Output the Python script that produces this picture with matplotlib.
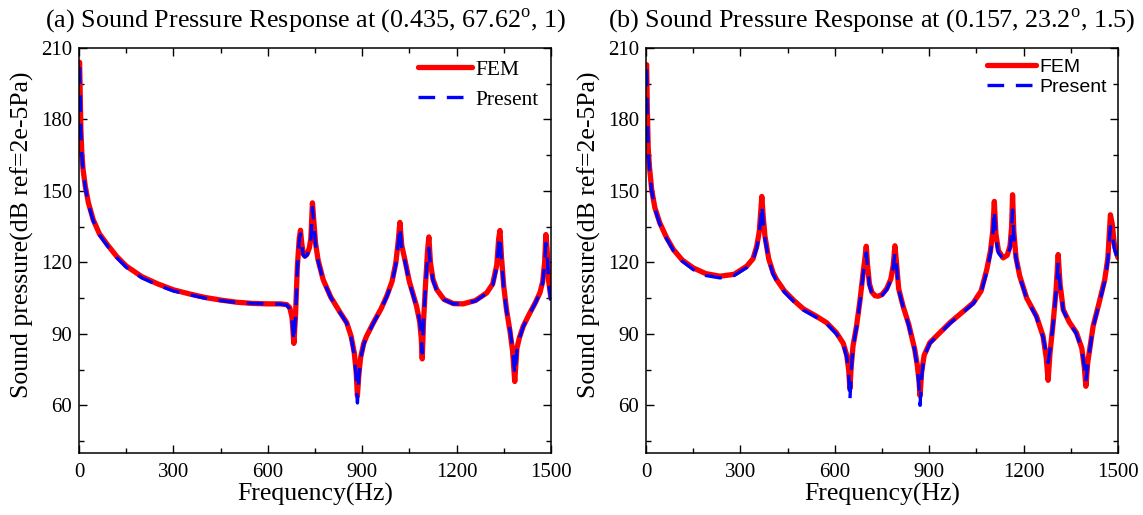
import numpy as np
import matplotlib
matplotlib.use("Agg")
import matplotlib.pyplot as plt

plt.rcParams['font.family'] = ['Liberation Serif', 'DejaVu Serif']
plt.rcParams['mathtext.fontset'] = 'custom'
plt.rcParams['mathtext.rm'] = 'Liberation Serif'

# panel (a): point (0.435, 67.62 deg, 1)
freq_a = [2, 4, 6, 9, 13, 20, 30, 45, 65, 90, 120, 150, 200, 250, 300, 350, 400, 450, 500, 550,
          600, 640, 660, 670, 677, 683, 688, 694, 700, 704, 708, 713, 718, 725, 732, 737, 742, 746,
          752, 760, 776, 800, 830, 851, 865, 875, 881, 885, 889, 895, 905, 914, 935, 960, 978, 995,
          1007, 1014, 1020, 1026, 1036, 1050, 1073, 1083, 1088, 1091, 1095, 1102, 1108, 1112, 1117,
          1125, 1137, 1160, 1190, 1221, 1260, 1296, 1315, 1328, 1334, 1338, 1343, 1350, 1359, 1370,
          1378, 1385, 1392, 1400, 1412, 1430, 1450, 1465, 1474, 1480, 1484, 1488, 1493, 1500]
fem_a = [204, 190, 176, 166, 159, 152, 145, 138, 132, 127.5, 122.5, 118.5, 114, 111, 108.5, 106.8,
         105.3, 104.2, 103.3, 102.8, 102.6, 102.6, 102.3, 101, 97, 86, 97, 118, 130, 133.5, 128,
         123.5, 122.6, 123.5, 126, 130, 145, 138, 128, 121, 112.8, 105.5, 99, 94.7, 89, 82, 74, 64,
         72, 80, 86, 89, 94.5, 100.5, 105.8, 112, 119.8, 128, 136.8, 127, 121, 112, 101.6, 95, 88,
         79.5, 95, 112, 125, 130.7, 120, 113, 108.6, 104.5, 102.7, 102.6, 104, 107.2, 111, 119, 130,
         133.4, 122, 110, 100, 91, 83, 70, 84, 88.5, 93.2, 98, 103, 107.2, 112, 120, 131.7, 125, 112,
         105]
pres_a = [202, 189, 175, 165, 158.5, 151.5, 144.5, 137.5, 131.5, 127, 122, 118, 113.5, 110.5, 108,
          106.5, 105, 104, 103.2, 102.8, 102.6, 102.5, 102.1, 100.5, 96, 87, 96, 117, 129, 132, 127,
          123, 122.3, 123, 125.5, 129, 143, 137, 127.5, 120.5, 112.5, 105.3, 98.8, 94.5, 88.5, 81, 72,
          61, 71, 79.5, 85.5, 88.7, 94.3, 100.3, 105.5, 111.5, 119, 127, 135, 126, 120.5, 111.5, 101.3,
          95.5, 89, 82, 95, 111, 123, 126, 119, 112.5, 108.3, 104.3, 102.6, 102.5, 103.8, 107, 110.5,
          118, 128, 131, 121, 109.5, 99.5, 91.5, 84, 73, 83, 88, 93, 97.8, 102.8, 107, 111.5, 119, 128,
          123.5, 111, 104]

# panel (b): point (0.157, 23.2 deg, 1.5)
freq_b = [2, 4, 7, 11, 18, 28, 44, 65, 87, 115, 150, 190, 235, 280, 320, 340, 352, 360, 365, 368,
          372, 378, 390, 404, 415, 440, 470, 500, 540, 574, 605, 627, 638, 644, 648, 652, 658, 669,
          680, 690, 696, 700, 704, 710, 718, 728, 738, 750, 765, 778, 786, 791, 796, 803, 817, 835,
          854, 862, 867, 871, 876, 884, 902, 930, 966, 1000, 1040, 1065, 1083, 1095, 1102, 1107, 1112,
          1120, 1135, 1148, 1157, 1162, 1165, 1169, 1176, 1188, 1210, 1241, 1262, 1272, 1278, 1284,
          1294, 1303, 1310, 1316, 1326, 1345, 1368, 1385, 1393, 1398, 1404, 1421, 1440, 1458, 1468,
          1476, 1482, 1488, 1495, 1500]
fem_b = [203, 185, 168, 160, 150.5, 143, 136.5, 130.5, 125.4, 121, 117.7, 115.3, 114.2, 115, 118.4,
         121.5, 126.8, 133, 142, 147.7, 140, 131, 121.5, 115.6, 112.8, 108, 104, 100.5, 97.5, 94.7,
         90.5, 86, 81, 75, 67, 76, 85, 93.2, 104, 115.6, 122, 126.8, 119, 111, 107.5, 106, 105.8,
         106.5, 109, 113, 119, 127, 120, 109, 101.6, 94, 83.5, 77, 71, 64, 74, 81, 86.3, 90, 94.7,
         98.5, 103, 108, 117, 125, 133, 145.6, 132, 125, 121.9, 123, 127, 135, 148.4, 133, 122, 114.2,
         105, 97.4, 89, 80, 70.5, 82, 94.7, 108, 123.3, 111, 100.2, 95, 90.5, 84, 76, 68, 78, 93.2,
         103, 112.8, 122, 140, 136, 128, 124, 122]
pres_b = [201, 184, 167, 159, 150, 142.5, 136, 130, 125, 120.5, 117, 114.5, 113.5, 114.5, 117.8,
          121, 126, 132, 139, 144, 138, 130, 121, 115, 112.3, 107.5, 103.5, 100, 97, 94.3, 90, 85.5,
          80, 73, 62, 74, 84.5, 92.8, 103.5, 115, 121, 124, 118, 110.5, 107, 105.6, 105.5, 106.2, 108.5,
          112.5, 118, 124, 119, 108.5, 101.3, 93.5, 83, 76, 69, 60, 72, 80.5, 86, 89.7, 94.4, 98.2,
          102.7, 107.5, 116, 124, 131, 142, 130, 124, 121.5, 122.5, 126, 133, 142, 131, 121.5, 113.8,
          104.7, 97, 88.5, 82, 78, 83, 94.3, 107, 120, 110, 99.8, 94.7, 90, 83.5, 76.5, 70, 77.5, 92.8,
          102.5, 112, 121, 135, 133, 126, 123, 121]

panels = [
    ("(a) Sound Pressure Response at (0.435, 67.62$^{\\rm o}$, 1)", freq_a, fem_a, pres_a,
     ['Liberation Serif'], 15.5, 0.45),
    ("(b) Sound Pressure Response at (0.157, 23.2$^{\\rm o}$, 1.5)", freq_b, fem_b, pres_b,
     ['Liberation Sans'], 14, 0.12),
]

fig = plt.figure(figsize=(11.43, 5.15), dpi=100)
lefts = [0.0691, 0.5652]
title_x = [0.2677, 0.763]

for left, tx, (title, f, fem, pres, legfont, legsize, legspace) in zip(lefts, title_x, panels):
    ax = fig.add_axes([left, 0.1204, 0.4129, 0.7864])
    ax.plot(f, fem, color='red', lw=3.8, solid_capstyle='round', label='FEM')
    ax.plot(f, pres, color='blue', lw=2.4, dashes=(5, 3.5), label='Present')
    ax.set_xlim(0, 1500)
    ax.set_ylim(40, 210)
    ax.set_xticks(np.arange(0, 1501, 300))
    ax.set_xticks(np.arange(150, 1500, 300), minor=True)
    ax.set_yticks(np.arange(60, 211, 30))
    ax.set_yticks(np.arange(45, 210, 30), minor=True)
    ax.tick_params(which='both', direction='in', top=True, right=True, labelsize=15)
    ax.tick_params(which='major', length=6, width=1)
    ax.tick_params(which='minor', length=3.5, width=1)
    ax.tick_params(axis='x', pad=7)
    ax.tick_params(axis='y', pad=5)
    for s in ax.spines.values():
        s.set_linewidth(1.1)
    ax.set_xlabel("Frequency(Hz)", fontsize=18.5, labelpad=1)
    ax.set_ylabel("Sound pressure(dB ref=2e-5Pa)", fontsize=18.5)
    ax.yaxis.set_label_coords(-0.095, 0.538)
    fig.text(tx, 0.961, title, fontsize=18.8, ha='center', va='center')
    ax.legend(loc='upper right', frameon=False, handlelength=2.5,
              prop={'family': legfont, 'size': legsize}, borderaxespad=0.15,
              labelspacing=legspace, handletextpad=0.2)

fig.savefig("out.png", dpi=100)
